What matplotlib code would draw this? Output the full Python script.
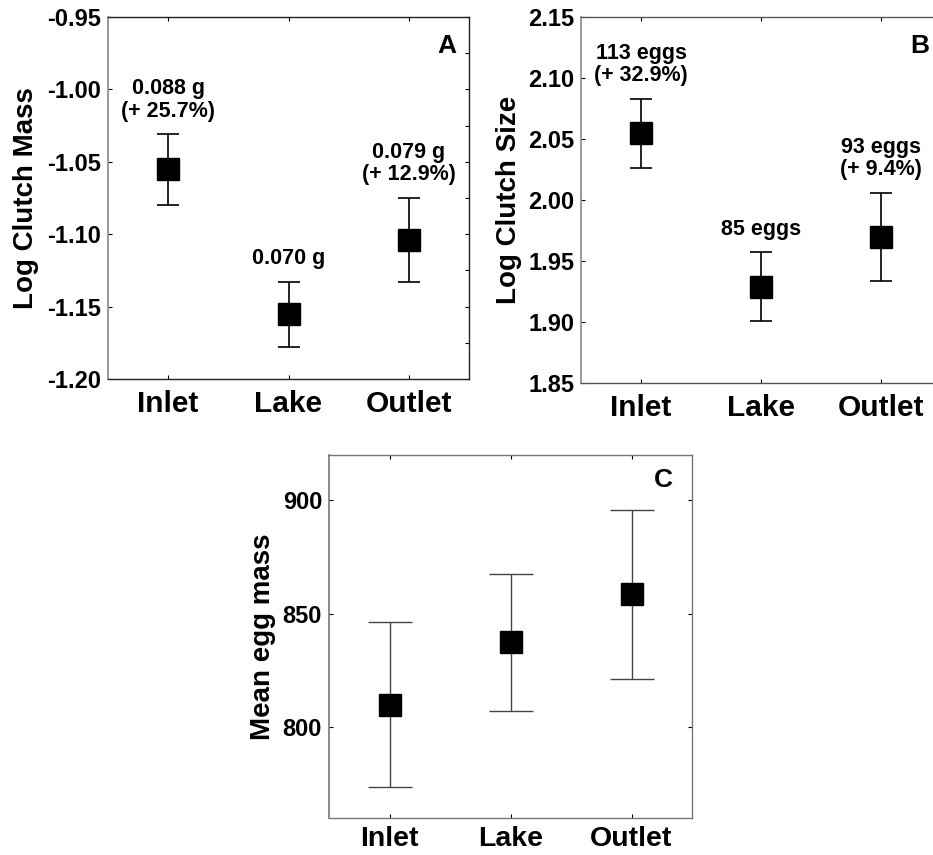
import matplotlib
matplotlib.use("Agg")
import matplotlib.pyplot as plt
from matplotlib.ticker import MultipleLocator, FormatStrFormatter

plt.rcParams['font.family'] = ['Liberation Sans', 'DejaVu Sans']
plt.rcParams['font.weight'] = 'bold'
plt.rcParams['axes.unicode_minus'] = False

categories = ["Inlet", "Lake", "Outlet"]

# Panel A: Log clutch mass
mass_mean = [-1.055, -1.155, -1.104]
mass_low = [-1.080, -1.178, -1.133]
mass_high = [-1.031, -1.133, -1.075]
mass_notes = ["0.088 g\n(+ 25.7%)", "0.070 g", "0.079 g\n(+ 12.9%)"]

# Panel B: Log clutch size
size_mean = [2.055, 1.929, 1.970]
size_low = [2.026, 1.901, 1.934]
size_high = [2.083, 1.957, 2.006]
size_notes = ["113 eggs\n(+ 32.9%)", "85 eggs", "93 eggs\n(+ 9.4%)"]

# Panel C: Mean egg mass
egg_mean = [809.8, 837.5, 858.7]
egg_low = [773.5, 807.3, 821.4]
egg_high = [846.2, 867.7, 895.8]

W, H = 933, 855
fig = plt.figure(figsize=(W / 100, H / 100), dpi=100)


def rect(left, right, top, bottom):
    return [left / W, (H - bottom) / H, (right - left) / W, (bottom - top) / H]


def style(ax, ylim, major, minor, fmt, letter, ylabel, labelpad, spine_col='#222222', grey_left='#888888',
          xsize=21.5, xpad=8):
    ax.set_xlim(-0.5, 2.5)
    ax.set_ylim(*ylim)
    ax.set_xticks(range(len(categories)))
    ax.set_xticklabels(categories, fontsize=xsize, fontweight='bold')
    ax.yaxis.set_major_locator(MultipleLocator(major))
    ax.yaxis.set_major_formatter(FormatStrFormatter(fmt))
    if minor:
        ax.yaxis.set_minor_locator(MultipleLocator(minor))
        ax.tick_params(axis='y', which='minor', left=False, right=True, direction='in', length=3, width=0.8)
    ax.tick_params(axis='y', which='major', left=True, right=True, direction='in', length=3, width=0.8,
                   labelsize=17, pad=5)
    ax.tick_params(axis='x', which='major', top=True, bottom=True, direction='in', length=3, width=0.8,
                   pad=xpad)
    for lab in ax.get_yticklabels():
        lab.set_fontweight('bold')
    for s in ['top', 'right', 'bottom']:
        ax.spines[s].set_color(spine_col)
        ax.spines[s].set_linewidth(1.0)
    ax.spines['left'].set_color(grey_left)
    ax.spines['left'].set_linewidth(1.2)
    ax.set_ylabel(ylabel, fontsize=20, fontweight='bold', labelpad=labelpad)
    ax.text(0.94, 0.92, letter, transform=ax.transAxes, fontsize=19, fontweight='bold',
            ha='center', va='center')


def draw(ax, mean, low, high, capsize, ecolor, elw):
    x = list(range(len(mean)))
    yerr = [[m - l for m, l in zip(mean, low)], [h - m for m, h in zip(mean, high)]]
    ax.errorbar(x, mean, yerr=yerr, fmt='s', color='black', markersize=16, ecolor=ecolor,
                elinewidth=elw, capsize=capsize, capthick=elw, zorder=3)


def annotate(ax, high, notes):
    for i, (h, t) in enumerate(zip(high, notes)):
        ax.annotate(t, xy=(i, h), xytext=(0, 9), textcoords='offset points', ha='center',
                    va='bottom', fontsize=15.5, fontweight='bold', linespacing=1.1)


axA = fig.add_axes(rect(108, 469, 17, 379))
draw(axA, mass_mean, mass_low, mass_high, 8, 'black', 1.2)
annotate(axA, mass_high, mass_notes)
style(axA, (-1.20, -0.95), 0.05, 0.025, '%.2f', 'A', 'Log Clutch Mass', 6)

axB = fig.add_axes(rect(581, 941, 17, 383))
draw(axB, size_mean, size_low, size_high, 8, 'black', 1.2)
annotate(axB, size_high, size_notes)
style(axB, (1.85, 2.15), 0.05, None, '%.2f', 'B', 'Log Clutch Size', 4, spine_col='#555555')

axC = fig.add_axes(rect(329, 692, 455, 818))
draw(axC, egg_mean, egg_low, egg_high, 16, '#444444', 1.0)
style(axC, (760, 920), 50, None, '%d', 'C', 'Mean egg mass', 5, spine_col='#777777', grey_left='#777777',
      xsize=20.5, xpad=6)
axC.texts[-1].set_position((0.92, 0.93))

fig.savefig("out.png", dpi=100)
